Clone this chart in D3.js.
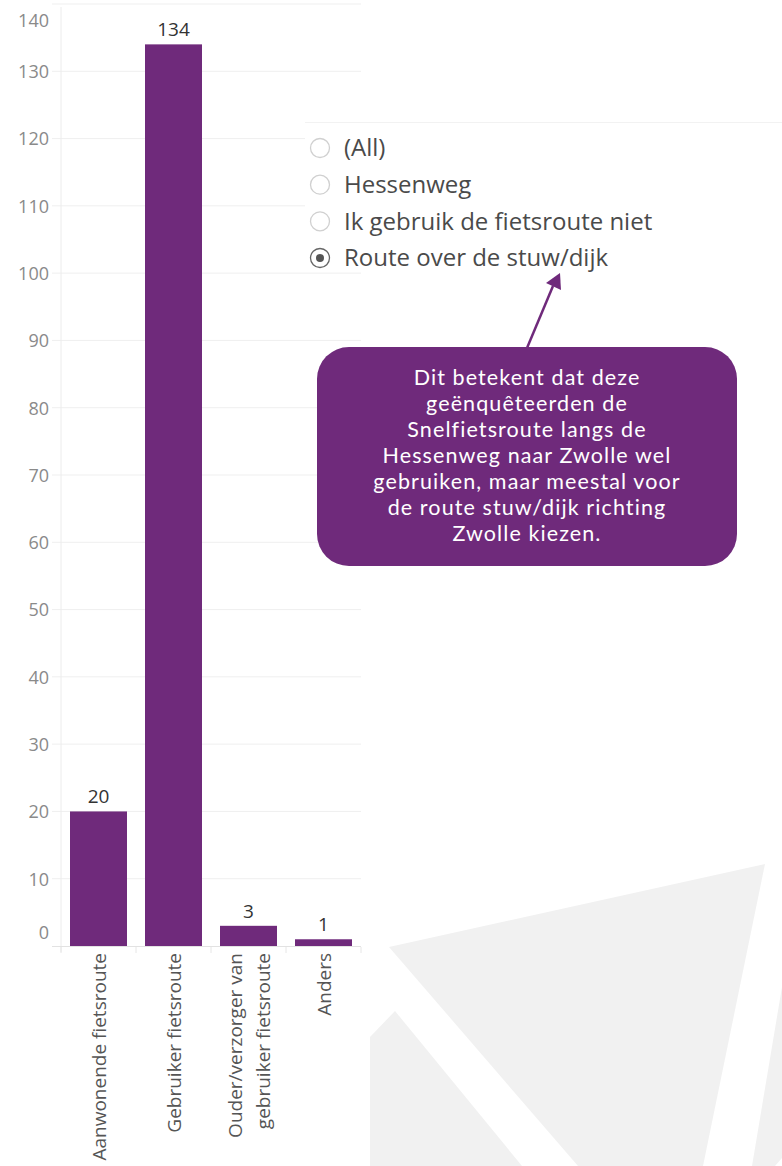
<!DOCTYPE html>
<html>
<head>
<meta charset="utf-8">
<script src="https://cdn.jsdelivr.net/npm/d3@7"></script>
<style>
  body { margin: 0; background: #fff; }
  svg { display: block; }
</style>
</head>
<body>
<div id="chart"></div>
<script>
var svgWidth = 782;
var svgHeight = 1166;

// data
var categories = ["Aanwonende fietsroute", "Gebruiker fietsroute", "Ouder/verzorger van gebruiker fietsroute", "Anders"];
var categoryLines = [["Aanwonende fietsroute"], ["Gebruiker fietsroute"], ["Ouder/verzorger van", "gebruiker fietsroute"], ["Anders"]];
var values = [20, 134, 3, 1];
var yTicks = [0, 10, 20, 30, 40, 50, 60, 70, 80, 90, 100, 110, 120, 130, 140];
var filterOptions = ["(All)", "Hessenweg", "Ik gebruik de fietsroute niet", "Route over de stuw/dijk"];
var selectedOption = "Route over de stuw/dijk";
var noteLines = [
  "Dit betekent dat deze",
  "geënquêteerden de",
  "Snelfietsroute langs de",
  "Hessenweg naar Zwolle wel",
  "gebruiken, maar meestal voor",
  "de route stuw/dijk richting",
  "Zwolle kiezen."
];

var purple = "#6f2a7b";
var font = "'Open Sans', sans-serif";

var svg = d3.select("#chart")
  .append("svg")
  .attr("width", svgWidth)
  .attr("height", svgHeight);

// background decoration (light grey shapes bottom right)
var bgShapes = [
  [[389, 947], [765, 864], [703, 1166], [578, 1166]],
  [[370, 1037], [395, 1011], [522, 1166], [370, 1166]],
  [[782, 987], [752, 1166], [775, 1166], [782, 1158]]
];
svg.append("g").selectAll("polygon")
  .data(bgShapes)
  .enter()
  .append("polygon")
  .attr("points", d => d.map(p => p.join(",")).join(" "))
  .attr("fill", "#f1f1f1");

// scales
var xScale = d3.scaleBand()
  .domain(categories)
  .range([61, 361])
  .paddingInner(0.24)
  .paddingOuter(0.12);

var yScale = d3.scaleLinear()
  .domain([0, 140])
  .range([946, 4]);

// gridlines
svg.append("g").selectAll("line")
  .data(yTicks.filter(d => d > 0))
  .enter()
  .append("line")
  .attr("x1", 52)
  .attr("x2", 361)
  .attr("y1", d => yScale(d))
  .attr("y2", d => yScale(d))
  .attr("stroke", "#efefef")
  .attr("stroke-width", 1);

// y axis
var leftAxis = d3.axisLeft(yScale)
  .tickValues(yTicks)
  .tickSize(0)
  .tickPadding(12);

var yAxisG = svg.append("g")
  .attr("transform", "translate(61,0)")
  .call(leftAxis);
yAxisG.select(".domain").attr("stroke", "#ececec").attr("d", "M0,7V952");
yAxisG.selectAll(".tick text")
  .attr("fill", "#8a8a8a")
  .style("font-family", font)
  .style("font-size", "18px")
  .attr("dy", "0.35em")
  .attr("transform", d => d === 140 ? "translate(0,16)" : d === 0 ? "translate(0,-14)" : null);

// baseline and category ticks
svg.append("line")
  .attr("x1", 52).attr("x2", 361)
  .attr("y1", yScale(0) + 0.5).attr("y2", yScale(0) + 0.5)
  .attr("stroke", "#e2e2e2");

var bottomAxis = d3.axisBottom(xScale).tickSize(0).tickFormat("");
var xAxisG = svg.append("g")
  .attr("transform", `translate(0, ${yScale(0) + 1})`)
  .call(bottomAxis);
xAxisG.select(".domain").remove();
var boundaries = categories.map(c => xScale(c) - xScale.step() * xScale.paddingInner() / 2);
boundaries.push(xScale.range()[1]);
boundaries[0] = xScale.range()[0];
xAxisG.selectAll(".bnd")
  .data(boundaries)
  .enter()
  .append("line")
  .attr("x1", d => d).attr("x2", d => d)
  .attr("y1", 0).attr("y2", 6)
  .attr("stroke", "#e6e6e6");

// bars
svg.append("g").selectAll("rect")
  .data(values)
  .enter()
  .append("rect")
  .attr("x", (d, i) => xScale(categories[i]))
  .attr("width", xScale.bandwidth())
  .attr("y", d => yScale(d))
  .attr("height", d => yScale(0) - yScale(d))
  .attr("fill", purple);

// value labels
svg.append("g").selectAll("text")
  .data(values)
  .enter()
  .append("text")
  .attr("x", (d, i) => xScale(categories[i]) + xScale.bandwidth() / 2)
  .attr("y", d => yScale(d) - 8)
  .attr("text-anchor", "middle")
  .attr("fill", "#333")
  .style("font-family", font)
  .style("font-size", "19px")
  .text(d => d);

// category labels (rotated)
categoryLines.forEach(function (lines, i) {
  var cx = xScale(categories[i]) + xScale.bandwidth() / 2;
  lines.forEach(function (line, j) {
    var off = (j - (lines.length - 1) / 2) * 28;
    svg.append("text")
      .attr("transform", `translate(${cx + off}, 953) rotate(-90)`)
      .attr("text-anchor", "end")
      .attr("dominant-baseline", "central")
      .attr("fill", "#555")
      .style("font-family", font)
      .style("font-size", "19px")
      .text(line);
  });
});

// filter panel
var panel = svg.append("g");
panel.append("rect")
  .attr("x", 305).attr("y", 122)
  .attr("width", 477).attr("height", 144)
  .attr("fill", "#fff");
panel.append("line")
  .attr("x1", 305).attr("x2", 782)
  .attr("y1", 122.5).attr("y2", 122.5)
  .attr("stroke", "#f2f2f2");

var optY = d3.scalePoint()
  .domain(filterOptions)
  .range([148, 258]);

var opts = panel.selectAll(".opt")
  .data(filterOptions)
  .enter()
  .append("g")
  .attr("transform", d => `translate(320, ${optY(d)})`);

opts.append("circle")
  .attr("r", 9.5)
  .attr("fill", "#fff")
  .attr("stroke", d => d === selectedOption ? "#666" : "#d0d0d0")
  .attr("stroke-width", 1.3);

opts.filter(d => d === selectedOption)
  .append("circle")
  .attr("r", 4)
  .attr("fill", "#555");

opts.append("text")
  .attr("x", 24)
  .attr("dy", "0.35em")
  .attr("fill", "#4a4a4a")
  .style("font-family", font)
  .style("font-size", "24px")
  .text(d => d);

// arrow
svg.append("line")
  .attr("x1", 527).attr("y1", 348)
  .attr("x2", 553).attr("y2", 286)
  .attr("stroke", purple)
  .attr("stroke-width", 2.5);
svg.append("polygon")
  .attr("points", "560,273 546,283 561,290")
  .attr("fill", purple);

// callout
svg.append("rect")
  .attr("x", 317).attr("y", 347)
  .attr("width", 420).attr("height", 219)
  .attr("rx", 32).attr("ry", 32)
  .attr("fill", purple);

svg.append("g").selectAll("text")
  .data(noteLines)
  .enter()
  .append("text")
  .attr("x", 527)
  .attr("y", (d, i) => 377 + i * 26)
  .attr("dy", "0.35em")
  .attr("text-anchor", "middle")
  .attr("fill", "#fff")
  .style("font-family", "Lato, sans-serif")
  .style("font-size", "21.5px")
  .style("letter-spacing", "1.1px")
  .text(d => d);
</script>
</body>
</html>
